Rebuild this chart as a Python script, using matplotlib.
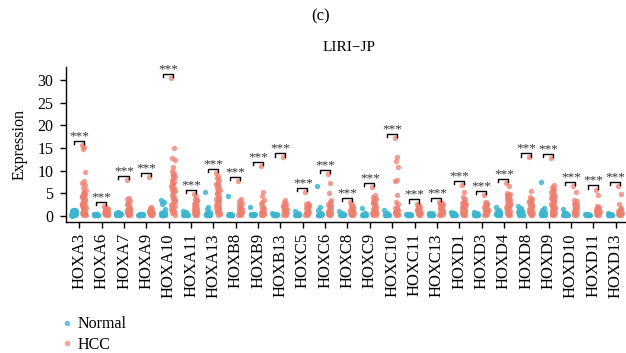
import numpy as np
import matplotlib
matplotlib.use("Agg")
from matplotlib import pyplot as plt
from matplotlib.lines import Line2D

plt.rcParams["font.family"] = ["Liberation Serif", "DejaVu Serif"]

# gene names on the x axis
genes = ["HOXA3", "HOXA6", "HOXA7", "HOXA9", "HOXA10", "HOXA11", "HOXA13",
         "HOXB8", "HOXB9", "HOXB13", "HOXC5", "HOXC6", "HOXC8", "HOXC9",
         "HOXC10", "HOXC11", "HOXC13", "HOXD1", "HOXD3", "HOXD4", "HOXD8",
         "HOXD9", "HOXD10", "HOXD11", "HOXD13"]

# expression values (Normal)
normal = {
    "HOXA3": [0.1, 0.2, 0.3, 0.4, 0.5, 0.6, 0.7, 0.8, 0.9, 1.0, 1.1, 1.2, 1.3, 0.2, 0.4,
              0.6, 0.8, 1.0, 0.3, 0.5, 0.7, 0.9, 1.1, 0.0, 0.1, 0.5, 0.9, 1.2],
    "HOXA6": [0.05, 0.1, 0.15, 0.2, 0.3, 0.35, 0.4, 0.1, 0.2, 0.3, 0.05, 0.25],
    "HOXA7": [0.1, 0.2, 0.3, 0.4, 0.5, 0.6, 0.7, 0.8, 0.3, 0.5, 0.2, 0.1, 0.6, 0.4],
    "HOXA9": [0.05, 0.1, 0.2, 0.3, 0.4, 0.1, 0.2, 0.3, 0.15, 0.25, 0.05],
    "HOXA10": [3.5, 3.0, 2.6, 1.4, 0.9, 0.6, 0.4, 0.3, 0.2, 0.1, 0.05, 0.5, 0.3, 0.2,
               0.4, 0.1, 0.6, 0.2],
    "HOXA11": [1.1, 0.8, 0.5, 0.3, 0.2, 0.1, 0.05, 0.4, 0.2, 0.1, 0.3],
    "HOXA13": [5.3, 1.9, 1.5, 0.8, 0.5, 0.3, 0.2, 0.1, 0.05, 0.4, 0.2, 0.1, 0.6, 0.3],
    "HOXB8": [4.4, 0.4, 0.3, 0.2, 0.1, 0.05, 0.2, 0.3, 0.1, 0.15],
    "HOXB9": [1.9, 0.4, 0.3, 0.2, 0.1, 0.05, 0.2, 0.1, 0.3],
    "HOXB13": [0.6, 0.4, 0.3, 0.2, 0.1, 0.05, 0.2, 0.1, 0.3, 0.15],
    "HOXC5": [1.1, 0.5, 0.3, 0.2, 0.1, 0.05, 0.2, 0.1, 0.3],
    "HOXC6": [6.5, 1.9, 1.2, 0.5, 0.3, 0.2, 0.1, 0.05, 0.4, 0.2, 0.1],
    "HOXC8": [1.0, 0.5, 0.3, 0.2, 0.1, 0.05, 0.2, 0.1, 0.3],
    "HOXC9": [1.8, 0.5, 0.3, 0.2, 0.1, 0.05, 0.2, 0.1, 0.3, 0.4],
    "HOXC10": [1.2, 0.6, 0.4, 0.3, 0.2, 0.1, 0.05, 0.2, 0.1, 0.3],
    "HOXC11": [0.4, 0.3, 0.2, 0.1, 0.05, 0.2, 0.1, 0.3, 0.15],
    "HOXC13": [0.7, 0.5, 0.3, 0.2, 0.1, 0.05, 0.2, 0.1, 0.3],
    "HOXD1": [0.8, 0.6, 0.4, 0.3, 0.2, 0.1, 0.05, 0.2, 0.1, 0.3, 0.5],
    "HOXD3": [0.9, 0.6, 0.4, 0.3, 0.2, 0.1, 0.05, 0.2, 0.1, 0.3, 0.5],
    "HOXD4": [1.9, 1.2, 1.0, 0.8, 0.6, 0.4, 0.3, 0.2, 0.1, 0.05, 0.5, 0.7, 0.9, 0.3],
    "HOXD8": [2.2, 1.6, 1.3, 1.1, 0.9, 0.7, 0.5, 0.3, 0.2, 0.1, 0.05, 0.4, 0.6, 0.8,
              1.0, 1.2, 0.2],
    "HOXD9": [7.5, 1.7, 1.2, 0.9, 0.7, 0.5, 0.3, 0.2, 0.1, 0.05, 0.4, 0.6, 0.8, 0.2],
    "HOXD10": [1.4, 0.6, 0.4, 0.3, 0.2, 0.1, 0.05, 0.2, 0.1, 0.3, 0.5],
    "HOXD11": [0.4, 0.3, 0.2, 0.1, 0.05, 0.2, 0.1, 0.3, 0.15],
    "HOXD13": [0.5, 0.3, 0.2, 0.1, 0.05, 0.2, 0.1, 0.3, 0.15],
}

# expression values (HCC)
hcc = {
    "HOXA3": [15.6, 15.1, 14.7, 9.6, 7.7, 7.3, 6.8, 6.2, 5.6, 5.3, 5.0, 4.7, 4.4, 4.1,
              3.8, 3.5, 3.2, 2.9, 2.6, 2.3, 2.0, 1.8, 1.5, 1.2, 1.0, 0.8, 0.6, 0.4,
              0.2, 0.1, 4.9, 4.3, 3.6, 3.0, 2.5, 1.6, 0.9, 0.3, 5.1, 2.1],
    "HOXA6": [2.1, 1.8, 1.6, 1.5, 1.4, 1.3, 1.2, 1.1, 1.0, 0.9, 0.8, 0.7, 0.6, 0.5,
              0.4, 0.3, 0.2, 0.1, 1.2, 0.8, 0.5, 0.3, 1.0, 0.6],
    "HOXA7": [7.9, 4.0, 3.6, 3.2, 2.8, 2.5, 2.3, 2.0, 1.7, 1.5, 1.2, 1.0, 0.8, 0.6,
              0.4, 0.2, 0.1, 0.5, 0.9, 1.4, 0.3, 0.7],
    "HOXA9": [8.6, 2.0, 1.7, 1.4, 1.2, 1.0, 0.8, 0.6, 0.5, 0.4, 0.3, 0.2, 0.1, 0.9,
              0.6, 0.3, 0.7, 0.2],
    "HOXA10": [30.5, 15.0, 12.8, 12.3, 10.8, 9.9, 9.5, 9.0, 8.6, 8.2, 7.8, 7.4, 7.0,
               6.6, 6.2, 5.8, 5.4, 5.0, 4.6, 4.2, 3.8, 3.4, 3.0, 2.6, 2.2, 1.8, 1.4,
               1.0, 0.6, 0.2, 8.8, 7.2, 5.6, 4.0, 2.4, 0.8, 6.4, 3.2, 9.2, 1.2],
    "HOXA11": [4.8, 4.3, 3.8, 3.4, 3.0, 2.7, 2.4, 2.1, 1.8, 1.5, 1.2, 1.0, 0.8, 0.6,
               0.4, 0.2, 0.1, 2.5, 1.6, 0.9, 0.3, 3.2],
    "HOXA13": [9.4, 8.8, 8.3, 7.9, 7.5, 7.0, 6.6, 6.2, 5.8, 5.4, 5.0, 4.6, 4.2, 3.8,
               3.4, 3.0, 2.6, 2.2, 1.8, 1.4, 1.0, 0.6, 0.2, 4.8, 4.0, 3.2, 2.4, 1.6,
               0.8, 0.4, 5.6, 6.8],
    "HOXB8": [7.7, 3.6, 3.2, 2.9, 2.6, 2.3, 2.0, 1.7, 1.4, 1.1, 0.8, 0.6, 0.4, 0.2,
              0.1, 1.5, 0.9, 0.3],
    "HOXB9": [11.0, 5.2, 4.4, 3.5, 3.0, 2.5, 2.1, 1.7, 1.4, 1.1, 0.8, 0.6, 0.4, 0.2,
              0.1, 0.9, 0.3, 1.6],
    "HOXB13": [12.9, 3.5, 3.0, 2.7, 2.4, 2.1, 1.8, 1.5, 1.2, 1.0, 0.8, 0.6, 0.4, 0.2,
               0.1, 1.3, 0.7, 0.3, 2.2],
    "HOXC5": [5.2, 2.8, 2.6, 2.3, 2.0, 1.7, 1.4, 1.1, 0.9, 0.7, 0.5, 0.3, 0.2, 0.1,
              1.2, 0.6, 2.1],
    "HOXC6": [9.2, 7.3, 5.0, 3.5, 3.0, 2.6, 2.2, 1.9, 1.6, 1.3, 1.0, 0.8, 0.6, 0.4,
              0.2, 0.1, 2.4, 1.4, 0.7, 0.3],
    "HOXC8": [3.1, 2.5, 2.2, 1.9, 1.6, 1.3, 1.0, 0.8, 0.6, 0.4, 0.2, 0.1, 1.1, 0.5,
              1.8, 0.3],
    "HOXC9": [6.4, 4.5, 4.2, 3.8, 3.4, 3.0, 2.6, 2.3, 2.0, 1.7, 1.4, 1.1, 0.9, 0.7,
              0.5, 0.3, 0.1, 3.6, 2.8, 1.9, 1.2, 0.6, 2.5, 0.2],
    "HOXC10": [17.2, 13.1, 12.0, 10.8, 8.0, 7.7, 4.6, 3.1, 2.5, 2.0, 1.6, 1.2, 0.9,
               0.6, 0.4, 0.2, 0.1, 1.4, 0.8, 0.3],
    "HOXC11": [2.7, 2.4, 2.1, 1.9, 1.6, 1.3, 1.1, 0.9, 0.7, 0.5, 0.3, 0.2, 0.1, 1.2,
               0.6, 1.8],
    "HOXC13": [3.1, 2.9, 2.6, 2.3, 2.0, 1.8, 1.5, 1.2, 1.0, 0.8, 0.6, 0.4, 0.2, 0.1,
               2.7, 1.6, 0.9, 2.2],
    "HOXD1": [6.8, 5.3, 4.2, 3.6, 3.2, 2.8, 2.5, 2.2, 1.9, 1.6, 1.3, 1.0, 0.8, 0.6,
              0.4, 0.2, 0.1, 3.0, 2.0, 1.1, 0.5, 2.6],
    "HOXD3": [4.6, 3.1, 2.8, 2.5, 2.2, 1.9, 1.6, 1.3, 1.0, 0.8, 0.6, 0.4, 0.2, 0.1,
              2.6, 1.8, 1.2, 0.5],
    "HOXD4": [7.3, 6.6, 5.0, 4.8, 4.6, 4.3, 4.0, 3.7, 3.4, 3.1, 2.8, 2.5, 2.2, 1.9,
              1.6, 1.3, 1.0, 0.8, 0.6, 0.4, 0.2, 0.1, 4.4, 3.6, 2.9, 2.0, 1.2, 0.5,
              3.9, 2.4],
    "HOXD8": [12.9, 5.5, 4.2, 3.8, 3.4, 3.0, 2.7, 2.4, 2.1, 1.8, 1.5, 1.2, 1.0, 0.8,
              0.6, 0.4, 0.2, 0.1, 3.2, 2.2, 1.4, 0.7, 2.9, 1.1],
    "HOXD9": [12.7, 6.8, 6.4, 6.0, 5.6, 5.2, 4.8, 4.5, 4.2, 3.9, 3.6, 3.3, 3.0, 2.7,
              2.4, 2.1, 1.8, 1.5, 1.2, 1.0, 0.8, 0.6, 0.4, 0.2, 0.1, 5.4, 4.0, 3.2,
              2.6, 1.7, 0.9, 0.3, 4.6, 2.0],
    "HOXD10": [6.6, 5.2, 3.5, 3.2, 2.9, 2.6, 2.3, 2.0, 1.7, 1.4, 1.1, 0.9, 0.7, 0.5,
               0.3, 0.1, 2.4, 1.6, 0.8, 0.2],
    "HOXD11": [5.8, 4.6, 2.2, 1.9, 1.6, 1.4, 1.2, 1.0, 0.8, 0.6, 0.4, 0.2, 0.1, 1.1,
               0.5, 0.3],
    "HOXD13": [6.6, 4.9, 2.5, 1.8, 1.4, 1.1, 0.9, 0.7, 0.5, 0.3, 0.2, 0.1, 0.8, 0.4,
               1.2],
}

NORMAL_COL = "#3CB6D0"
HCC_COL = "#EE7E6E"


def jitter(n, width):
    # deterministic spread within each strip
    return ((np.arange(n) * 0.618034) % 1.0 - 0.5) * 2 * width


fig = plt.figure(figsize=(6.26, 3.53), dpi=100)
ax = fig.add_axes([0.1054, 0.371, 0.8994, 0.439])

for i, g in enumerate(genes):
    nv = np.array(normal[g])
    hv = np.array(hcc[g])
    ax.scatter(i - 0.25 + jitter(len(nv), 0.11), nv, s=15, color=NORMAL_COL,
               alpha=0.85, linewidths=0, zorder=2)
    ax.scatter(i + 0.2 + jitter(len(hv), 0.09), hv, s=15, color=HCC_COL,
               alpha=0.75, linewidths=0, zorder=2)
    top = max(nv.max(), hv.max())
    yb = top + 0.9
    ax.plot([i - 0.25, i - 0.25, i + 0.2, i + 0.2], [yb - 0.7, yb, yb, yb - 0.7],
            color="black", lw=1.0, clip_on=False, zorder=3)
    ax.text(i, top + 1.3, "***", ha="center", va="baseline", fontsize=9.5,
            color="#333333", clip_on=False)

ax.set_xlim(-0.6, len(genes) - 0.4)
ax.set_ylim(-1.4, 32.9)
ax.set_yticks([0, 5, 10, 15, 20, 25, 30])
ax.set_xticks(range(len(genes)))
ax.set_xticklabels(genes, rotation=90, fontsize=12)
ax.tick_params(axis="y", labelsize=11.5, length=4, width=1, pad=5)
ax.tick_params(axis="x", length=4, width=1, pad=4)
ax.spines["top"].set_visible(False)
ax.spines["right"].set_visible(False)
ax.spines["left"].set_linewidth(1)
ax.spines["bottom"].set_linewidth(1)
ax.set_ylabel("Expression", fontsize=11.5, labelpad=7)

fig.text(321 / 626, 1 - 16 / 353, "(c)", ha="center", va="center", fontsize=12)
fig.text(349 / 626, 1 - 47.5 / 353, "LIRI\u2212JP", ha="center", va="center",
         fontsize=11)

handles = [Line2D([], [], ls="", marker="o", ms=3, color=NORMAL_COL, alpha=0.7),
           Line2D([], [], ls="", marker="o", ms=3, color=HCC_COL, alpha=0.6)]
fig.legend(handles, ["Normal", "HCC"], loc="center left",
           bbox_to_anchor=(62 / 626, 1 - 334.5 / 353), frameon=False,
           fontsize=11.5, handlelength=0.6, handletextpad=0.4, labelspacing=0.3,
           borderpad=0, borderaxespad=0)

fig.savefig("out.png", dpi=100)
